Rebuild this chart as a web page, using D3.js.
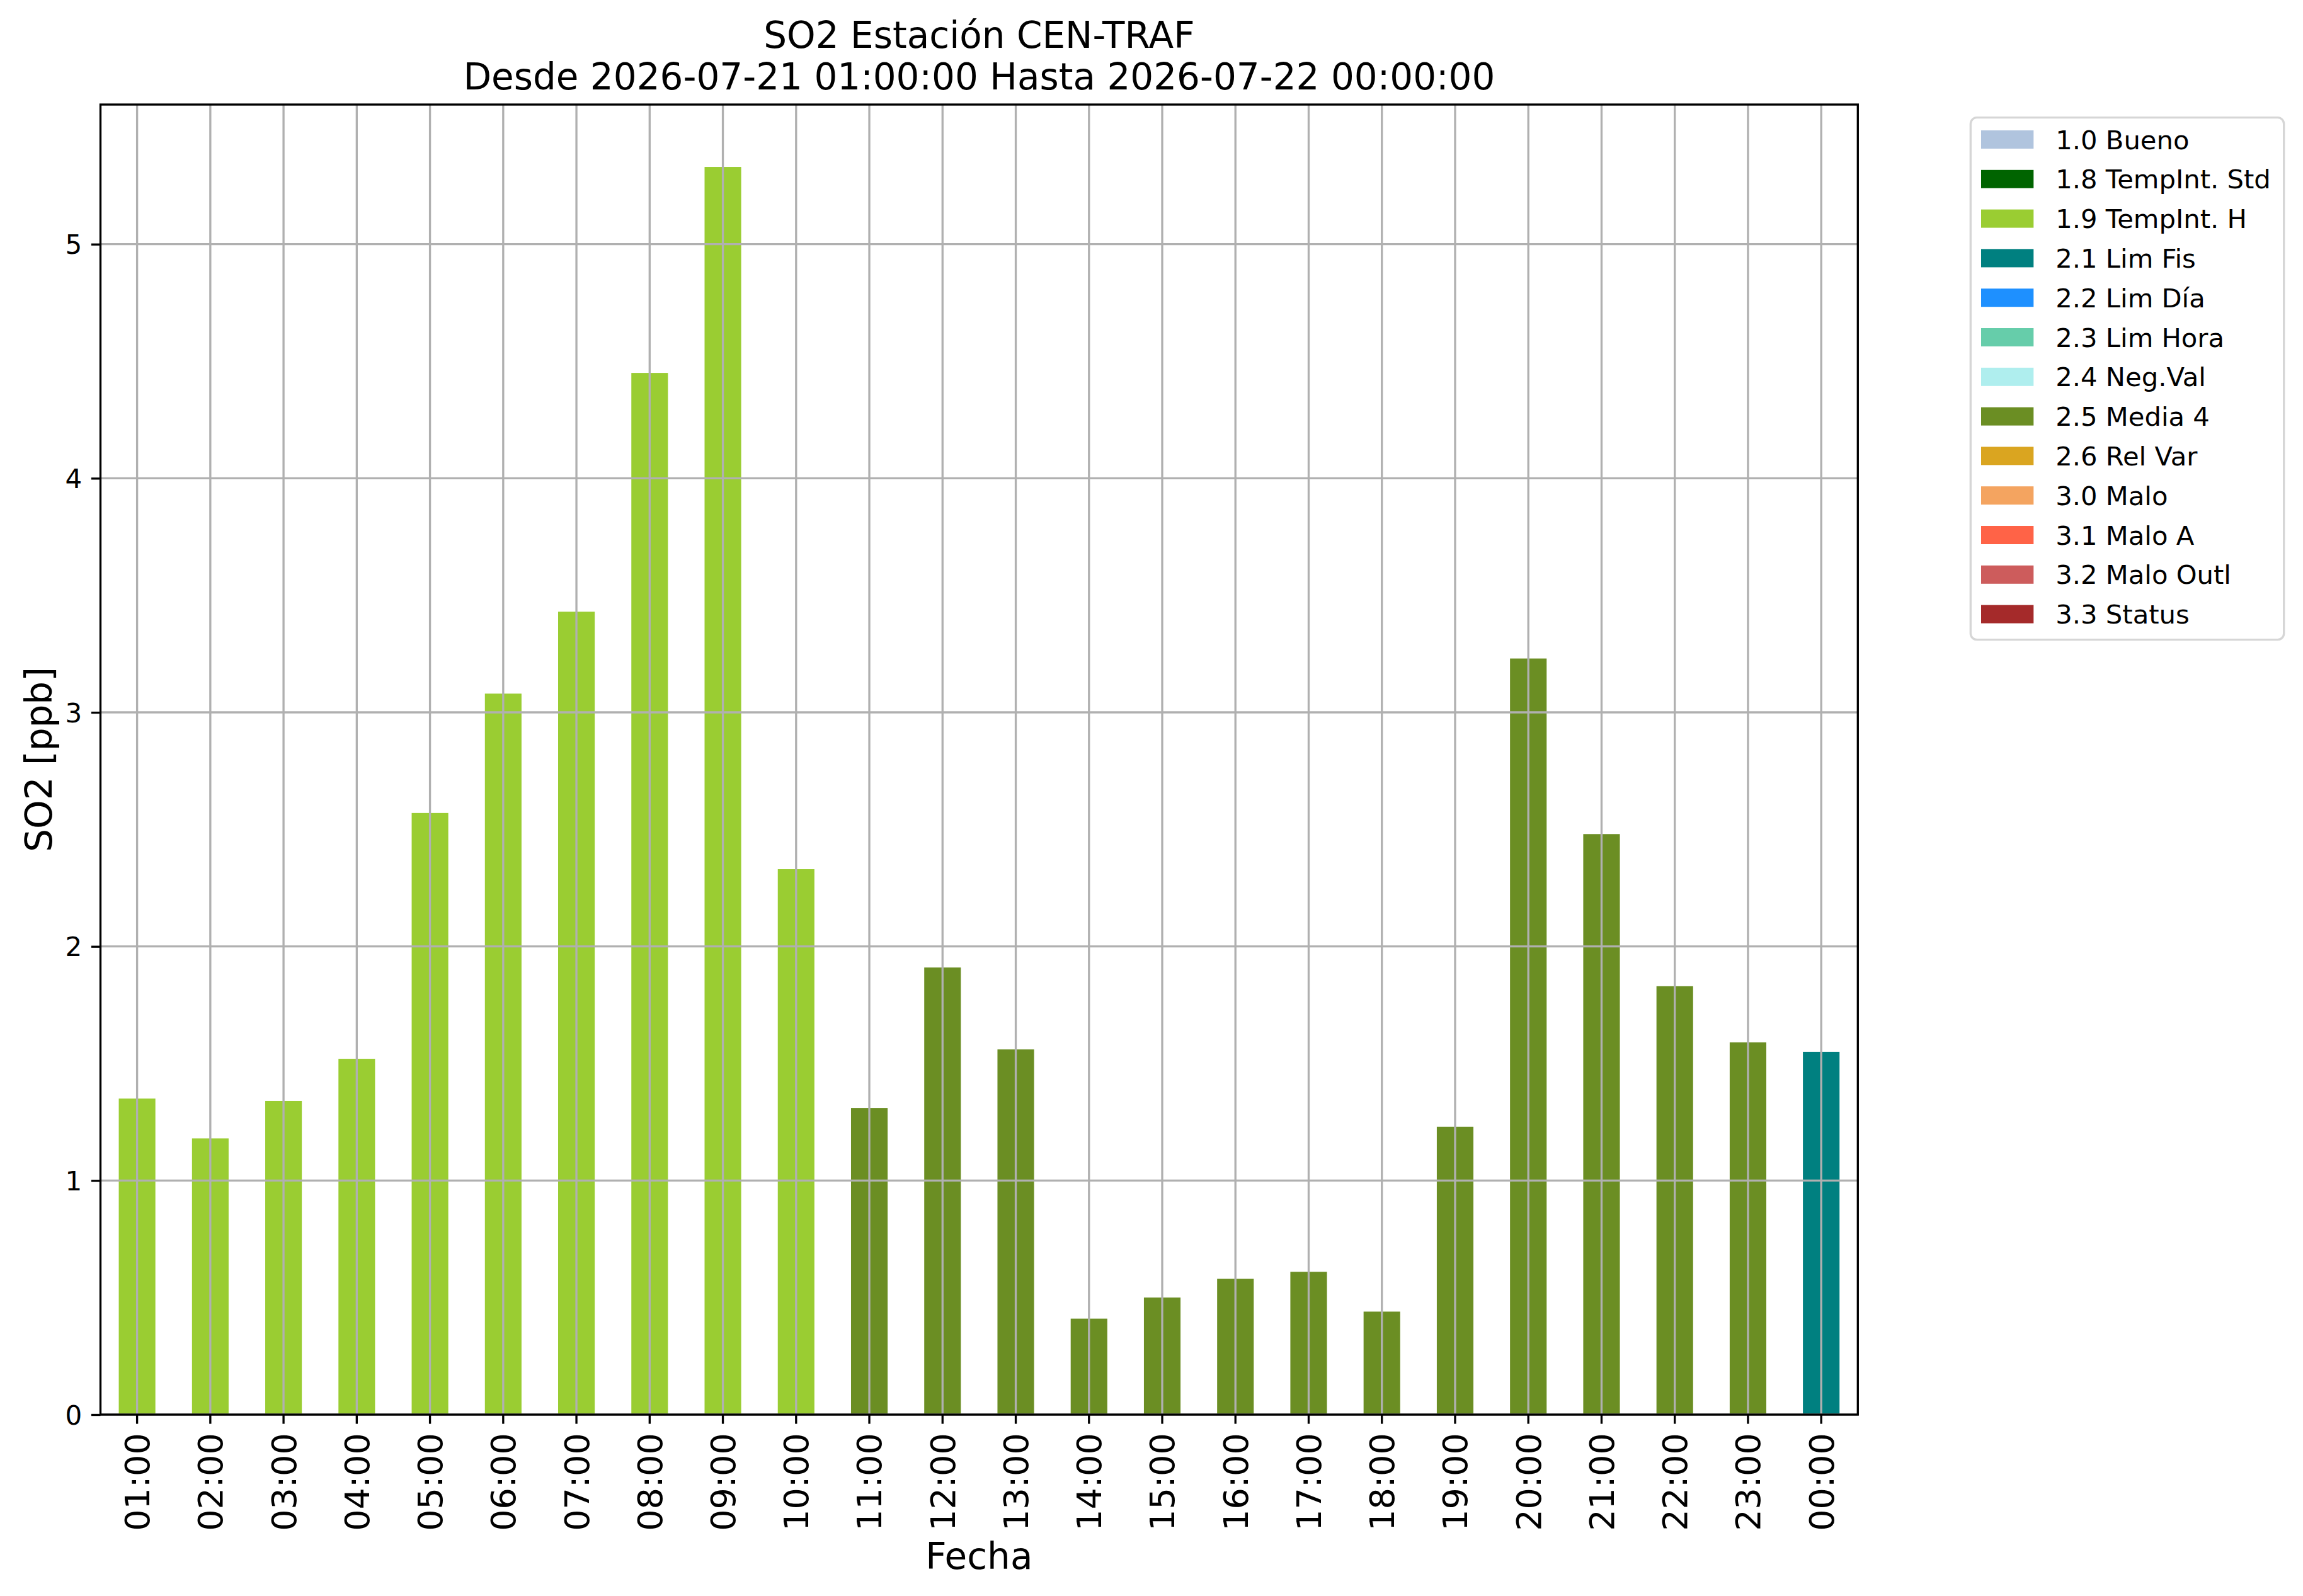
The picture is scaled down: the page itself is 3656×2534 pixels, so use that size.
<!DOCTYPE html>
<html>
<head>
<meta charset="utf-8">
<script src="https://cdn.jsdelivr.net/npm/d3@7"></script>
<style>
  html, body { margin: 0; padding: 0; background: #ffffff; }
  svg { display: block; font-family: "DejaVu Sans", sans-serif; }
</style>
</head>
<body>
<script>
// ---- data ----
const hours = ["01:00","02:00","03:00","04:00","05:00","06:00","07:00","08:00","09:00","10:00","11:00","12:00",
               "13:00","14:00","15:00","16:00","17:00","18:00","19:00","20:00","21:00","22:00","23:00","00:00"];
const so2Values = [1.35, 1.18, 1.34, 1.52, 2.57, 3.08, 3.43, 4.45, 5.33, 2.33, 1.31, 1.91,
                   1.56, 0.41, 0.50, 0.58, 0.61, 0.44, 1.23, 3.23, 2.48, 1.83, 1.59, 1.55];
const hourFlags = ["1.9","1.9","1.9","1.9","1.9","1.9","1.9","1.9","1.9","1.9","2.5","2.5",
                   "2.5","2.5","2.5","2.5","2.5","2.5","2.5","2.5","2.5","2.5","2.5","2.1"];
const flagCodes = ["1.0","1.8","1.9","2.1","2.2","2.3","2.4","2.5","2.6","3.0","3.1","3.2","3.3"];
const flagLabels = ["1.0 Bueno","1.8 TempInt. Std","1.9 TempInt. H","2.1 Lim Fis","2.2 Lim Día","2.3 Lim Hora",
                    "2.4 Neg.Val","2.5 Media 4","2.6 Rel Var","3.0 Malo","3.1 Malo A","3.2 Malo Outl","3.3 Status"];
const flagColors = ["#b0c4de","#006400","#9acd32","#008080","#1e90ff","#66cdaa",
                    "#afeeee","#6b8e23","#daa520","#f4a460","#ff6347","#cd5c5c","#a52a2a"];
const yTicks = [0, 1, 2, 3, 4, 5];
const titleLines = ["SO2 Estación CEN-TRAF", "Desde 2026-07-21 01:00:00 Hasta 2026-07-22 00:00:00"];
const xLabel = "Fecha";
const yLabel = "SO2 [ppb]";

// ---- layout ----
const W = 3656, H = 2534;
const plot = { left: 159.5, right: 2949.3, top: 166, bottom: 2246 };
const LW = 3.33;          // 0.8pt line width at 300dpi
const tickLen = 14.6, tickPad = 14.6;

const svg = d3.select("body").append("svg")
  .attr("width", W).attr("height", H)
  .attr("viewBox", `0 0 ${W} ${H}`);
svg.append("rect").attr("width", W).attr("height", H).attr("fill", "#ffffff");

const data = hours.map((h, i) => ({ hour: h, value: so2Values[i], flag: hourFlags[i] }));
const color = d3.scaleOrdinal().domain(flagCodes).range(flagColors);

const x = d3.scaleBand().domain(hours)
  .range([plot.left, plot.right])
  .paddingInner(0.5).paddingOuter(0.25);
const y = d3.scaleLinear().domain([0, d3.max(so2Values) * 1.05]).range([plot.bottom, plot.top]);

// bars
svg.append("g").selectAll("rect").data(data).join("rect")
  .attr("x", d => x(d.hour))
  .attr("y", d => y(d.value))
  .attr("width", x.bandwidth())
  .attr("height", d => y(0) - y(d.value))
  .attr("fill", d => color(d.flag));

// grid (drawn above bars like the reference)
const grid = svg.append("g").attr("stroke", "#b0b0b0").attr("stroke-width", LW);
grid.selectAll("line.v").data(hours).join("line").attr("class", "v")
  .attr("x1", d => x(d) + x.bandwidth() / 2).attr("x2", d => x(d) + x.bandwidth() / 2)
  .attr("y1", plot.top).attr("y2", plot.bottom);
grid.selectAll("line.h").data(yTicks).join("line").attr("class", "h")
  .attr("x1", plot.left).attr("x2", plot.right)
  .attr("y1", d => y(d)).attr("y2", d => y(d));

// axes via d3 axis generators
const xAxis = svg.append("g")
  .attr("transform", `translate(0,${plot.bottom})`)
  .call(d3.axisBottom(x).tickSize(tickLen).tickPadding(tickPad).tickSizeOuter(0));
xAxis.select(".domain").remove();
xAxis.selectAll(".tick line").attr("stroke", "#000").attr("stroke-width", LW);
xAxis.selectAll(".tick text")
  .attr("font-family", "DejaVu Sans")
  .attr("font-size", 54)
  .attr("fill", "#000")
  .attr("text-anchor", "end")
  .attr("transform", `translate(0,${tickLen + tickPad}) rotate(-90)`)
  .attr("x", 0).attr("y", 0).attr("dy", "0.36em");

const yAxis = svg.append("g")
  .attr("transform", `translate(${plot.left},0)`)
  .call(d3.axisLeft(y).tickValues(yTicks).tickFormat(d3.format("d")).tickSize(tickLen).tickPadding(tickPad).tickSizeOuter(0));
yAxis.select(".domain").remove();
yAxis.selectAll(".tick line").attr("stroke", "#000").attr("stroke-width", LW);
yAxis.selectAll(".tick text")
  .attr("font-family", "DejaVu Sans")
  .attr("font-size", 42)
  .attr("fill", "#000")
  .attr("dy", "0.36em");

// spines
svg.append("rect")
  .attr("x", plot.left).attr("y", plot.top)
  .attr("width", plot.right - plot.left).attr("height", plot.bottom - plot.top)
  .attr("fill", "none").attr("stroke", "#000").attr("stroke-width", LW);

// title
const cx = (plot.left + plot.right) / 2;
svg.append("text").attr("x", cx).attr("y", 76).attr("text-anchor", "middle")
  .attr("font-size", 58).attr("fill", "#000").text(titleLines[0]);
svg.append("text").attr("x", cx).attr("y", 141.5).attr("text-anchor", "middle")
  .attr("font-size", 58).attr("fill", "#000").text(titleLines[1]);

// axis labels
svg.append("text").attr("x", cx).attr("y", 2491).attr("text-anchor", "middle")
  .attr("font-size", 58).attr("fill", "#000").text(xLabel);
svg.append("text")
  .attr("transform", `translate(82,${(plot.top + plot.bottom) / 2}) rotate(-90)`)
  .attr("text-anchor", "middle")
  .attr("font-size", 58).attr("fill", "#000").text(yLabel);

// legend
const lg = { x: 3128.3, y: 186.7, w: 497.4, h: 829, row: 62.8, firstCenter: 221.5,
             patchX: 3145, patchW: 83.3, patchH: 29, textX: 3263.3, fs: 41.7 };
svg.append("rect")
  .attr("x", lg.x).attr("y", lg.y).attr("width", lg.w).attr("height", lg.h)
  .attr("rx", 10).attr("ry", 10)
  .attr("fill", "#ffffff").attr("stroke", "#d6d6d6").attr("stroke-width", LW);
const ly = d3.scaleLinear().domain([0, 1]).range([lg.firstCenter, lg.firstCenter + lg.row]);
const items = svg.append("g").selectAll("g").data(flagCodes).join("g")
  .attr("transform", (d, i) => `translate(0,${ly(i)})`);
items.append("rect")
  .attr("x", lg.patchX).attr("y", -lg.patchH / 2)
  .attr("width", lg.patchW).attr("height", lg.patchH)
  .attr("fill", d => color(d));
items.append("text")
  .attr("x", lg.textX).attr("y", 0).attr("dy", "0.36em")
  .attr("font-size", lg.fs).attr("fill", "#000")
  .text((d, i) => flagLabels[i]);
</script>
</body>
</html>
